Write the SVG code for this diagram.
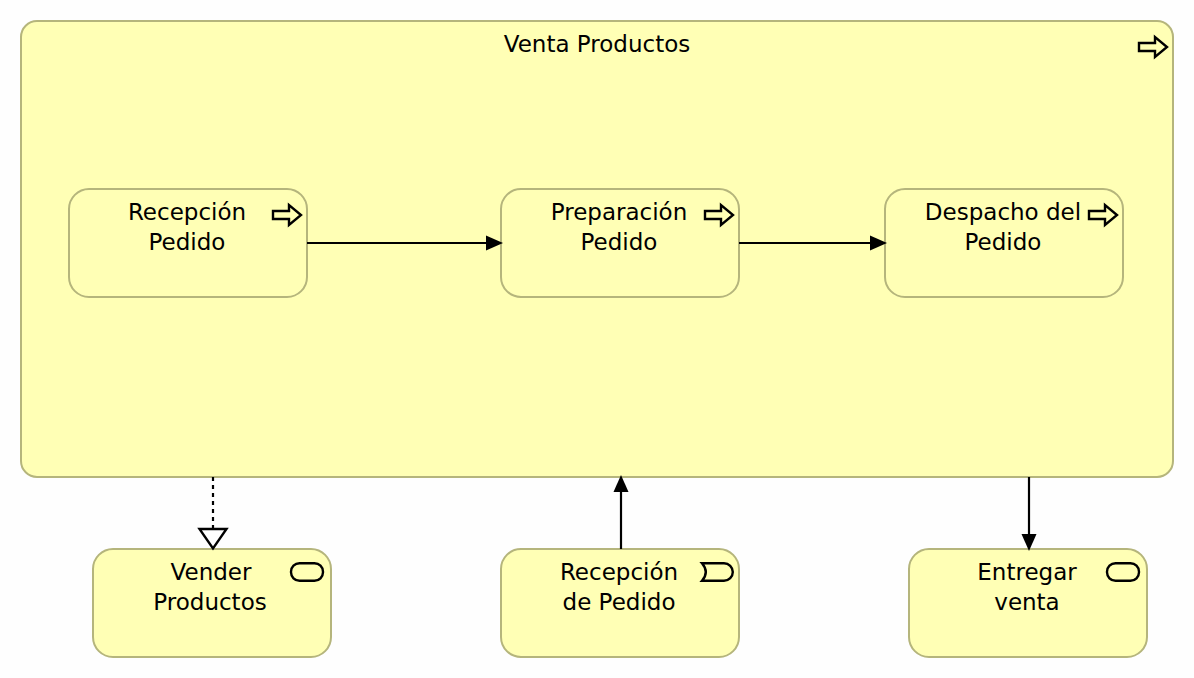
<svg xmlns="http://www.w3.org/2000/svg" width="1194" height="678" viewBox="0 0 1194 678">
<style>
.box{fill:#ffffb5;stroke:#b5b57c;stroke-width:2}
.lbl{font-family:"DejaVu Sans",sans-serif;font-size:23px;fill:#000;text-anchor:middle}
.ico{fill:none;stroke:#000;stroke-width:2.400}
.con{fill:none;stroke:#000;stroke-width:2.200}
.head{fill:#000;stroke:none}
</style>
<defs>
<path id="proc" class="ico" d="M-14-4H2V-10L14 0L2 10V4H-14Z"/>
<rect id="svc" class="ico" x="-16" y="-8.800" width="32" height="17.600" rx="8.500" ry="8.500"/>
</defs>
<rect width="1194" height="678" fill="#fefefe"/>
<g id="venta-productos">
<rect class="box" x="21" y="21" width="1152" height="456" rx="16" ry="16"/>
<text class="lbl" x="597" y="52">Venta Productos</text>
<use href="#proc" x="1153" y="47"/>
</g>
<g id="recepcion-pedido">
<rect class="box" x="69" y="189" width="238" height="108" rx="20" ry="20"/>
<text class="lbl" x="187" y="220">Recepción</text>
<text class="lbl" x="187" y="250">Pedido</text>
<use href="#proc" x="287" y="215"/>
</g>
<g id="preparacion-pedido">
<rect class="box" x="501" y="189" width="238" height="108" rx="20" ry="20"/>
<text class="lbl" x="619" y="220">Preparación</text>
<text class="lbl" x="619" y="250">Pedido</text>
<use href="#proc" x="719" y="215"/>
</g>
<g id="despacho-pedido">
<rect class="box" x="885" y="189" width="238" height="108" rx="20" ry="20"/>
<text class="lbl" x="1003" y="220">Despacho del</text>
<text class="lbl" x="1003" y="250">Pedido</text>
<use href="#proc" x="1103" y="215"/>
</g>
<g id="vender-productos">
<rect class="box" x="93" y="549" width="238" height="108" rx="20" ry="20"/>
<text class="lbl" x="211" y="580">Vender</text>
<text class="lbl" x="210" y="610">Productos</text>
<use href="#svc" x="307" y="572"/>
</g>
<g id="recepcion-de-pedido">
<rect class="box" x="501" y="549" width="238" height="108" rx="20" ry="20"/>
<text class="lbl" x="619" y="580">Recepción</text>
<text class="lbl" x="619" y="610">de Pedido</text>
<path class="ico" d="M702 563.200H724A8.800 8.800 0 0 1 724 580.800H702C707 575 707 569 702 563.200Z"/>
</g>
<g id="entregar-venta">
<rect class="box" x="909" y="549" width="238" height="108" rx="20" ry="20"/>
<text class="lbl" x="1027" y="580">Entregar</text>
<text class="lbl" x="1027" y="610">venta</text>
<use href="#svc" x="1123" y="572"/>
</g>
<g id="connectors">
<path class="con" d="M307 243H488"/>
<path class="head" d="M503 243L486 235.500V250.500Z"/>
<path class="con" d="M739 243H872"/>
<path class="head" d="M887 243L870 235.500V250.500Z"/>
<path class="con" d="M213 477V528" stroke-dasharray="4 4"/>
<path class="ico" d="M199.500 529H226.500L213 548.500Z"/>
<path class="con" d="M621 549V490"/>
<path class="head" d="M621 475L613.500 492H628.500Z"/>
<path class="con" d="M1029 477V536"/>
<path class="head" d="M1029 551L1021.500 534H1036.500Z"/>
</g>
</svg>
